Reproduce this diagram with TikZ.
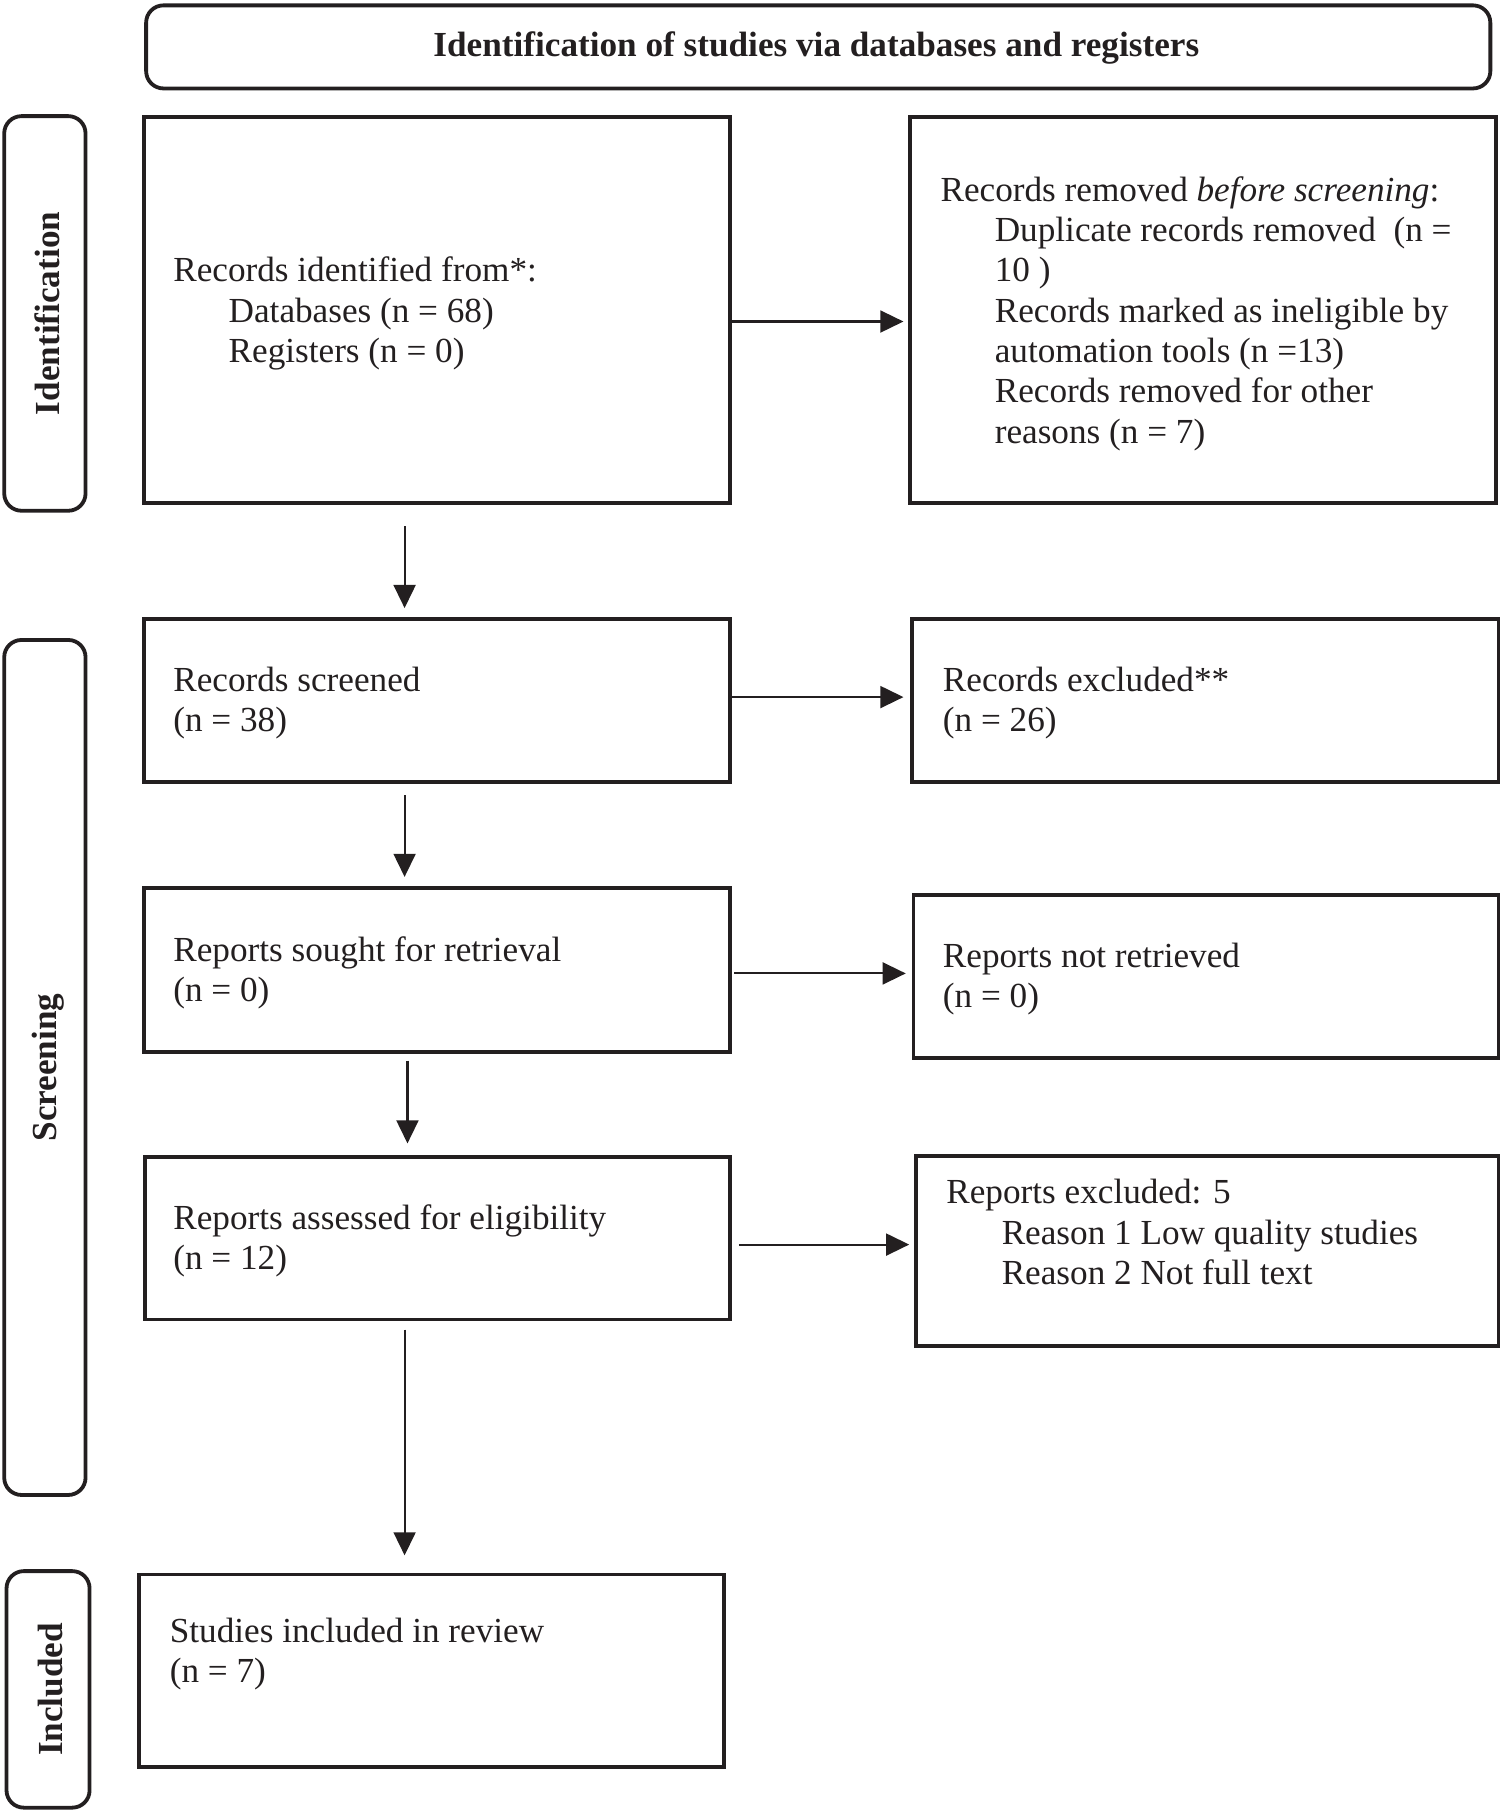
\documentclass[tikz,border=0pt]{standalone}
\usepackage{fontspec}
\setmainfont{Liberation Serif}
\usetikzlibrary{arrows.meta,calc}
\newcommand\topstrut{\rule{0pt}{25pt}}
\definecolor{ink}{HTML}{231F20}
\begin{document}
\begin{tikzpicture}[x=1pt,y=-1pt,
  every node/.style={font=\fontsize{30.5}{35}\selectfont, inner sep=0pt, text=ink},
  box/.style={draw=ink, line width=3.3pt, anchor=north west},
  rbox/.style={draw=ink, line width=3.3pt, rounded corners=15pt, anchor=north west},
  txt/.style={anchor=north west, align=left},
  side/.style={rotate=90, font=\fontsize{30.5}{35}\selectfont\bfseries},
  arr/.style={draw=ink, line width=1.8pt, -{Triangle[length=20pt,width=19pt]}}
]
\useasboundingbox (0,0) rectangle (1300,1568.7);

% header
\node[rbox, minimum width=1165pt, minimum height=72pt] (top) at (125,3) {};
\node[anchor=base, font=\fontsize{30.5}{35}\selectfont\bfseries] (title) at (707.5,49) {Identification of studies via databases and registers};

% side labels
\node[rbox, minimum width=70.5pt, minimum height=342pt] (sid) at (2,99) {};
\node[side] (sidt) at ($(sid.center)+(2,0)$) {Identification};
\node[rbox, minimum width=70.5pt, minimum height=741pt] (ssc) at (2,553) {};
\node[side] (ssct) at ($(ssc.center)+(3,0)$) {Screening};
\node[rbox, minimum width=72pt, minimum height=205pt] (sin) at (4,1360) {};
\node[side] (sint) at ($(sin.center)+(2,0)$) {Included};

% boxes
\node[box, minimum width=508pt, minimum height=334pt] (b1) at (123,100) {};
\node[txt] (b1t) at (150,219) {\topstrut Records identified from*:\\
\hspace*{48pt}Databases (n = 68)\\
\hspace*{48pt}Registers (n = 0)};

\node[box, minimum width=508pt, minimum height=334pt] (b2) at (787,100) {};
\node[txt] (b2t) at (815,149) {\topstrut Records removed \textit{before screening}:\\
\hspace*{47pt}Duplicate records removed\ \ (n =\\
\hspace*{47pt}10 )\\
\hspace*{47pt}Records marked as ineligible by\\
\hspace*{47pt}automation tools (n =13)\\
\hspace*{47pt}Records removed for other\\
\hspace*{47pt}reasons (n = 7)};

\node[box, minimum width=508pt, minimum height=141pt] (b3) at (123,535) {};
\node[txt] (b3t) at (150,574) {\topstrut Records screened\\(n = 38)};

\node[box, minimum width=508pt, minimum height=141pt] (b4) at (789,535) {};
\node[txt] (b4t) at (817,574) {\topstrut Records excluded**\\(n = 26)};

\node[box, minimum width=508pt, minimum height=142pt] (b5) at (123,768) {};
\node[txt] (b5t) at (150,808) {\topstrut Reports sought for retrieval\\(n = 0)};

\node[box, minimum width=507pt, minimum height=141pt] (b6) at (790,774) {};
\node[txt] (b6t) at (817,813) {\topstrut Reports not retrieved\\(n = 0)};

\node[box, minimum width=507pt, minimum height=141pt] (b7) at (124,1001) {};
\node[txt] (b7t) at (150,1040) {\topstrut Reports assessed for eligibility\\(n = 12)};

\node[box, minimum width=505pt, minimum height=165pt] (b8) at (792,1000) {};
\node[txt] (b8t) at (820,1018) {\topstrut Reports excluded: 5\\
\hspace*{48pt}Reason 1 Low quality studies\\
\hspace*{48pt}Reason 2 Not full text};

\node[box, minimum width=507pt, minimum height=167pt] (b9) at (119,1363) {};
\node[txt] (b9t) at (147,1398) {\topstrut Studies included in review\\(n = 7)};

% horizontal arrows
\draw[arr, shorten >=4pt] ([yshift=-10pt]b1.east) -- ([yshift=-10pt]b1.east -| b2.west);
\draw[arr, shorten >=6pt] ([yshift=3pt]b3.east) -- ([yshift=3pt]b3.east -| b4.west);
\draw[arr, shorten <=2pt, shorten >=5pt] ([yshift=-3pt]b5.east) -- ([yshift=-3pt]b5.east -| b6.west);
\draw[arr, shorten <=6pt, shorten >=4pt] ([yshift=-5.5pt]b7.east) -- ([yshift=-5.5pt]b7.east -| b8.west);

% vertical arrows
\draw[arr, shorten <=19pt, shorten >=8pt] ([xshift=-28pt]b1.south) -- ([xshift=-28pt]b1.south |- b3.north);
\draw[arr, shorten <=10pt, shorten >=8pt] ([xshift=-28pt]b3.south) -- ([xshift=-28pt]b3.south |- b5.north);
\draw[arr, shorten <=6pt, shorten >=10pt] ([xshift=-25.5pt]b5.south) -- ([xshift=-25.5pt]b5.south |- b7.north);
\draw[arr, shorten <=7pt, shorten >=15pt] ([xshift=-28.5pt]b7.south) -- ([xshift=-28.5pt]b7.south |- b9.north);
\end{tikzpicture}
\end{document}
